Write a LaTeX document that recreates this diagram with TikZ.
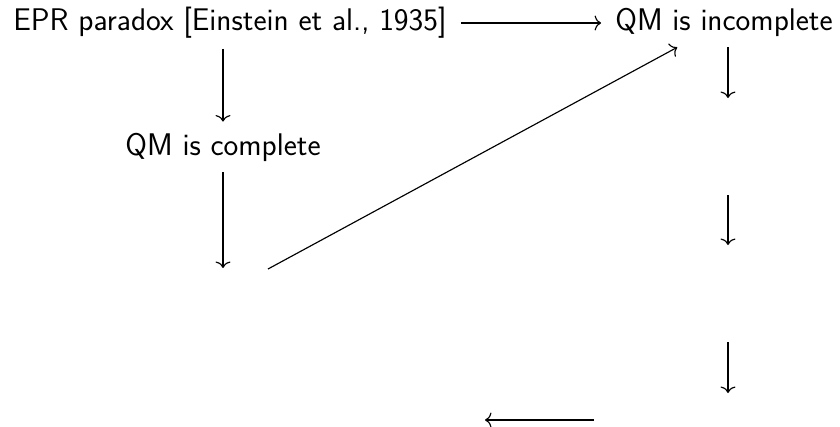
\documentclass[tikz,border=0pt]{standalone}
\usetikzlibrary{arrows.meta}
\begin{document}
\begin{tikzpicture}[x=1pt,y=-1pt,
  lbl/.style={font=\sffamily\fontsize{31.3}{36}\selectfont, anchor=base, inner xsep=14pt, inner ysep=11pt},
  cd/.style={line width=1.15pt, -{Computer Modern Rightarrow[length=6.5pt,width=15pt]}}]
\useasboundingbox (0,0) rectangle (840,426);
\node[lbl] (epr) at (230,30) {EPR paradox [Einstein et al., 1935]};
\node[lbl] (qmi) at (724,30) {QM is incomplete};
\node[lbl] (qmc) at (223,155) {QM is complete};
\coordinate (e1) at (223,268);
\coordinate (d1) at (268,269);
\coordinate (r1) at (728,98);
\coordinate (r2s) at (728,195);
\coordinate (r2) at (728,245);
\coordinate (r3s) at (728,342);
\coordinate (r3) at (728,393);
\coordinate (b1) at (594,420);
\coordinate (b2) at (485,420);
\draw[cd] ([yshift=7pt]epr.base east) -- ([yshift=7pt]qmi.base west);
\draw[cd] (epr.south -| qmc.north) -- (qmc.north);
\draw[cd] (qmc.south) -- (e1);
\draw[cd] (d1) -- (qmi);
\draw[cd] (qmi.south -| r1) -- (r1);
\draw[cd] (r2s) -- (r2);
\draw[cd] (r3s) -- (r3);
\draw[cd] (b1) -- (b2);
\end{tikzpicture}
\end{document}
